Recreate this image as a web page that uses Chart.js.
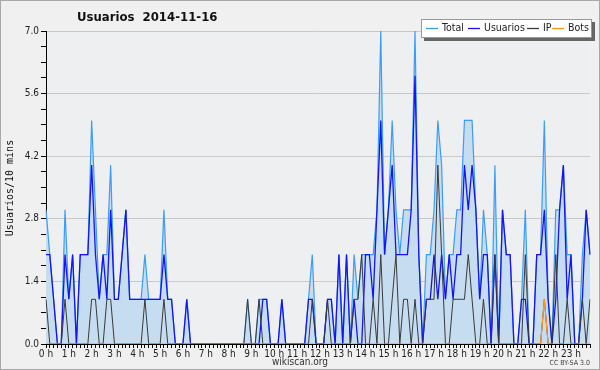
<!DOCTYPE html>
<html>
<head>
<meta charset="utf-8">
<script src="https://cdn.jsdelivr.net/npm/chart.js@4.4.1/dist/chart.umd.min.js"></script>
<style>
  body { margin: 0; background: #f0f0f0; }
  canvas { display: block; }
</style>
</head>
<body>
<canvas id="chart" width="600" height="370"></canvas>
<script>
// 10 minute slots, 6 per hour, 144 for the day
var hourLabels = ["0 h", "1 h", "2 h", "3 h", "4 h", "5 h", "6 h", "7 h", "8 h", "9 h", "10 h", "11 h",
                  "12 h", "13 h", "14 h", "15 h", "16 h", "17 h", "18 h", "19 h", "20 h", "21 h", "22 h", "23 h"];
var yTickLabels = ["0.0", "1.4", "2.8", "4.2", "5.6", "7.0"];

var total = [
    3, 2, 1, 0, 0, 3,   1, 2, 0, 2, 2, 2,   5, 3, 1, 2, 2, 4,   1, 1, 2, 3, 1, 1,
    1, 1, 2, 1, 1, 1,   1, 3, 1, 1, 0, 0,   0, 1, 0, 0, 0, 0,   0, 0, 0, 0, 0, 0,
    0, 0, 0, 0, 0, 1,   0, 0, 1, 1, 1, 0,   0, 0, 1, 0, 0, 0,   0, 0, 0, 1, 2, 0,
    0, 0, 1, 1, 0, 2,   0, 2, 0, 2, 1, 2,   2, 2, 2, 3, 7, 2,   3, 5, 3, 2, 3, 3,
    3, 7, 2, 0, 2, 2,   3, 5, 4, 1, 2, 2,   3, 3, 5, 5, 5, 3,   1, 3, 2, 0, 4, 0,
    3, 2, 2, 0, 0, 1,   3, 0, 0, 2, 2, 5,   1, 0, 3, 3, 4, 2,   2, 0, 0, 2, 3, 2
];
var usuarios = [
    2, 2, 1, 0, 0, 2,   1, 2, 0, 2, 2, 2,   4, 2, 1, 2, 1, 3,   1, 1, 2, 3, 1, 1,
    1, 1, 1, 1, 1, 1,   1, 2, 1, 1, 0, 0,   0, 1, 0, 0, 0, 0,   0, 0, 0, 0, 0, 0,
    0, 0, 0, 0, 0, 0,   0, 0, 0, 1, 1, 0,   0, 0, 1, 0, 0, 0,   0, 0, 0, 1, 1, 0,
    0, 0, 1, 1, 0, 2,   0, 2, 0, 1, 0, 0,   2, 2, 1, 3, 5, 2,   3, 4, 2, 2, 2, 2,
    3, 6, 2, 0, 1, 1,   2, 1, 2, 1, 2, 1,   2, 2, 4, 3, 4, 3,   1, 2, 2, 0, 2, 0,
    3, 2, 2, 0, 0, 1,   1, 0, 0, 2, 2, 3,   1, 0, 1, 3, 4, 1,   2, 0, 0, 1, 3, 2
];
var ip = [
    1, 0, 0, 0, 0, 1,   0, 0, 0, 0, 0, 0,   1, 1, 0, 0, 1, 1,   0, 0, 0, 0, 0, 0,
    0, 0, 1, 0, 0, 0,   0, 1, 0, 0, 0, 0,   0, 0, 0, 0, 0, 0,   0, 0, 0, 0, 0, 0,
    0, 0, 0, 0, 0, 1,   0, 0, 1, 0, 0, 0,   0, 0, 0, 0, 0, 0,   0, 0, 0, 0, 1, 0,
    0, 0, 1, 0, 0, 0,   0, 0, 0, 1, 1, 2,   0, 0, 1, 0, 2, 0,   0, 1, 2, 0, 1, 1,
    0, 1, 0, 0, 1, 1,   1, 4, 2, 0, 0, 1,   1, 1, 1, 2, 1, 0,   0, 1, 0, 0, 2, 0,
    0, 0, 0, 0, 0, 0,   2, 0, 0, 0, 0, 1,   0, 0, 2, 0, 0, 1,   0, 0, 0, 1, 0, 1
];
var bots = [
    0, 0, 0, 0, 0, 0,   0, 0, 0, 0, 0, 0,   0, 0, 0, 0, 0, 0,   0, 0, 0, 0, 0, 0,
    0, 0, 0, 0, 0, 0,   0, 0, 0, 0, 0, 0,   0, 0, 0, 0, 0, 0,   0, 0, 0, 0, 0, 0,
    0, 0, 0, 0, 0, 0,   0, 0, 0, 0, 0, 0,   0, 0, 0, 0, 0, 0,   0, 0, 0, 0, 0, 0,
    0, 0, 0, 0, 0, 0,   0, 0, 0, 0, 0, 0,   0, 0, 0, 0, 0, 0,   0, 0, 0, 0, 0, 0,
    0, 0, 0, 0, 0, 0,   0, 0, 0, 0, 0, 0,   0, 0, 0, 0, 0, 0,   0, 0, 0, 0, 0, 0,
    0, 0, 0, 0, 0, 0,   0, 0, 0, 0, 0, 1,   0, 0, 0, 0, 0, 0,   0, 0, 0, 0, 0, 0
];

var SANS = "'DejaVu Sans Condensed', 'DejaVu Sans', sans-serif";
var MONO = "'DejaVu Sans Mono', monospace";

var slots = [];
for (var h = 0; h < hourLabels.length; h++) {
    for (var m = 0; m < 6; m++) {
        slots.push(h + ":" + m + "0");
    }
}

var legendItems = [
    {label: "Total", color: "#3d9cf5"},
    {label: "Usuarios", color: "#1414f5"},
    {label: "IP", color: "#3a3a3a"},
    {label: "Bots", color: "#ff9a1a"}
];

// background, title, legend box, axis title and footer text
var decor = {
    id: "decor",
    beforeDraw: function (chart) {
        var ctx = chart.ctx;
        var a = chart.chartArea;
        ctx.save();
        ctx.fillStyle = "#f0f0f0";
        ctx.fillRect(0, 0, chart.width, chart.height);
        ctx.fillStyle = "#eeeff1";
        ctx.fillRect(a.left, a.top, a.right - a.left, a.bottom - a.top);
        ctx.restore();
    },
    afterDraw: function (chart) {
        var ctx = chart.ctx;
        ctx.save();

        // frame
        ctx.strokeStyle = "#a8a8a8";
        ctx.lineWidth = 1;
        ctx.strokeRect(0.5, 0.5, chart.width - 1, chart.height - 1);

        // title
        ctx.fillStyle = "#111";
        ctx.font = "bold 13px " + SANS;
        ctx.textBaseline = "middle";
        ctx.textAlign = "left";
        ctx.fillText("Usuarios  2014-11-16", 77, 18);

        // legend box with shadow
        ctx.fillStyle = "#666";
        ctx.fillRect(424, 22, 171, 19);
        ctx.fillStyle = "#ffffff";
        ctx.fillRect(421, 19, 171, 19);
        ctx.strokeStyle = "#999";
        ctx.strokeRect(421.5, 19.5, 170, 18);

        ctx.font = "10.5px " + SANS;
        var xs = [426, 468, 527, 552];
        for (var i = 0; i < legendItems.length; i++) {
            ctx.strokeStyle = legendItems[i].color;
            ctx.lineWidth = 1.3;
            ctx.beginPath();
            ctx.moveTo(xs[i], 28.5);
            ctx.lineTo(xs[i] + 12, 28.5);
            ctx.stroke();
            ctx.fillStyle = "#222";
            ctx.fillText(legendItems[i].label, xs[i] + 16, 28.5);
        }

        // y axis title
        ctx.save();
        ctx.translate(10, 188);
        ctx.rotate(-Math.PI / 2);
        ctx.textAlign = "center";
        ctx.font = "10px " + MONO;
        ctx.fillStyle = "#111";
        ctx.fillText("Usuarios/10 mins", 0, 0);
        ctx.restore();

        // footer
        ctx.textAlign = "center";
        ctx.font = "10px " + SANS;
        ctx.fillStyle = "#333";
        ctx.fillText("wikiscan.org", 300, 362);
        ctx.textAlign = "right";
        ctx.font = "7px " + SANS;
        ctx.fillStyle = "#444";
        ctx.fillText("CC BY-SA 3.0", 590, 363);

        ctx.restore();
    }
};

var ctx = document.getElementById("chart").getContext("2d");
var chart = new Chart(ctx, {
    type: "line",
    data: {
        labels: slots,
        datasets: [
            {
                label: "Total",
                data: total,
                borderColor: "#3d9cf5",
                backgroundColor: "#c6dcf0",
                fill: "origin",
                borderWidth: 1.2,
                order: 4
            },
            {
                label: "Usuarios",
                data: usuarios,
                borderColor: "#1414f5",
                borderWidth: 1.3,
                fill: false,
                order: 3
            },
            {
                label: "IP",
                data: ip,
                borderColor: "#3a3a3a",
                borderWidth: 1,
                fill: false,
                order: 2
            },
            {
                label: "Bots",
                data: bots,
                borderColor: "#ff9a1a",
                borderWidth: 1.2,
                fill: false,
                order: 1
            }
        ]
    },
    options: {
        responsive: false,
        animation: false,
        devicePixelRatio: 1,
        layout: {padding: {top: 31, right: 10, left: 0, bottom: 0}},
        elements: {
            point: {radius: 0, hoverRadius: 0},
            line: {tension: 0}
        },
        plugins: {
            legend: {display: false},
            title: {display: false},
            tooltip: {enabled: false}
        },
        scales: {
            x: {
                type: "category",
                offset: false,
                border: {color: "#000", width: 1},
                grid: {drawOnChartArea: false, tickLength: 4, tickColor: "#000"},
                ticks: {
                    autoSkip: false,
                    maxRotation: 0,
                    minRotation: 0,
                    padding: 0,
                    color: "#222",
                    font: {size: 10, family: SANS},
                    callback: function (value, index) {
                        return index % 6 === 0 ? hourLabels[index / 6] : "";
                    }
                },
                afterFit: function (scale) {
                    scale.height = 26;
                }
            },
            y: {
                min: 0,
                max: 7,
                border: {color: "#000", width: 1},
                afterBuildTicks: function (scale) {
                    var t = [];
                    for (var i = 0; i <= 20; i++) {
                        t.push({value: i * 0.35});
                    }
                    scale.ticks = t;
                },
                grid: {
                    color: function (c) {
                        return (c.index % 4 === 0 && c.index > 0) ? "#c9c9c9" : "rgba(0,0,0,0)";
                    },
                    tickColor: "#000",
                    tickLength: 5
                },
                ticks: {
                    padding: 2,
                    color: "#222",
                    font: {size: 10, family: SANS},
                    callback: function (value, index) {
                        return index % 4 === 0 ? yTickLabels[index / 4] : "";
                    }
                },
                afterFit: function (scale) {
                    scale.width = 46;
                }
            }
        }
    },
    plugins: [decor]
});
</script>
</body>
</html>
